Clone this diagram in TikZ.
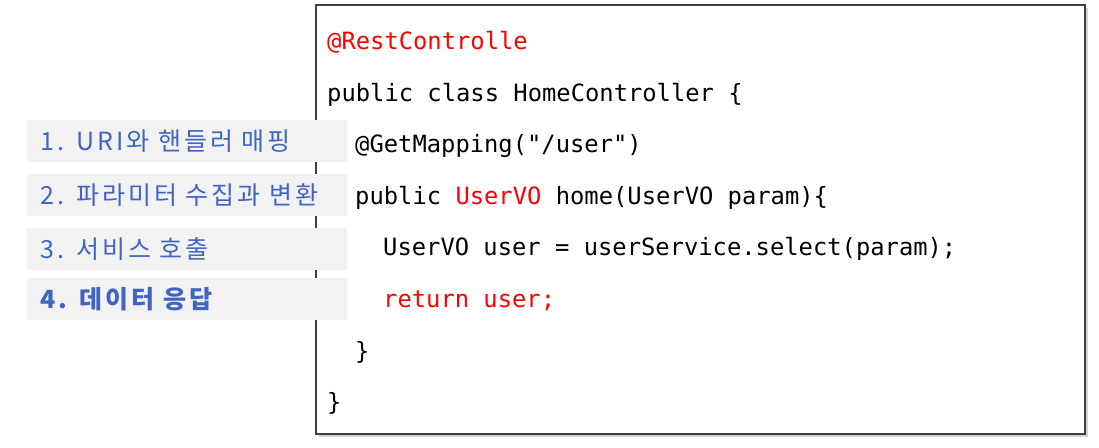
\documentclass[tikz,border=0pt]{standalone}
\usepackage{fontspec}
\setmonofont{DejaVu Sans Mono}
\newfontfamily\krfont{Noto Sans CJK KR}[LetterSpace=12,WordSpace=3]
\usepackage{xcolor}
\usepackage{tikz}
\usetikzlibrary{shadows}
\definecolor{codered}{RGB}{255,0,0}
\definecolor{stepblue}{RGB}{64,100,196}
\definecolor{boxgray}{RGB}{242,242,242}
\definecolor{framegray}{RGB}{64,64,64}

\begin{document}
\begin{tikzpicture}[x=1pt,y=1pt,
	code/.style={anchor=base west,inner sep=0pt,font=\ttfamily\fontsize{23.8}{28}\selectfont},
	stepbox/.style={fill=boxgray,minimum height=42pt,text width=294pt,inner xsep=13pt,inner ysep=0pt,align=left,anchor=west,text=stepblue,font=\krfont\fontsize{25}{29}\selectfont}]
				\useasboundingbox (0,0) rectangle (1099,447);
				\node[draw=framegray,line width=1.5pt,fill=white,minimum width=769pt,minimum height=429pt,drop shadow={shadow xshift=3pt,shadow yshift=-3pt,opacity=.35}] (codebox) at (700.5,227.5) {};
				\foreach \i/\y/\txt in {1/306/{1. URI와 핸들러 매핑}, 2/251.5/{2. 파라미터 수집과 변환}, 3/198/{3. 서비스 호출}, 4/147.5/{\bfseries 4. 데이터 응답}}
				\node[stepbox] (step\i) at (27,\y) {\txt};
				\node[code] (l1) at (327,397) {\color{codered}@RestControlle};
				\node[code] (l2) at (327,345.5) {public class HomeController \{};
				\node[code] (l3) at (355,294) {@GetMapping("/user")};
				\node[code] (l4) at (355,242.5) {public \textcolor{codered}{UserVO} home(UserVO param)\{};
				\node[code] (l5) at (383,191) {UserVO user = userService.select(param);};
				\node[code] (l6) at (383,139.5) {\color{codered}return user;};
				\node[code] (l7) at (355,88) {\}};
				\node[code] (l8) at (327,36.5) {\}};
\end{tikzpicture}
\end{document}
